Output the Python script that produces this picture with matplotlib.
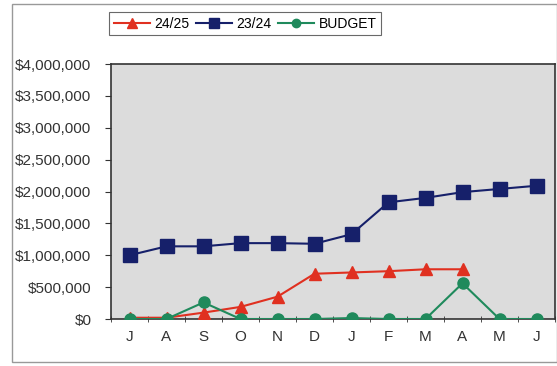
import matplotlib.pyplot as plt
from matplotlib.patches import Rectangle
from matplotlib.ticker import FuncFormatter, MultipleLocator

plt.rcParams['font.family'] = ['Liberation Sans', 'DejaVu Sans']

months = ['J', 'A', 'S', 'O', 'N', 'D', 'J', 'F', 'M', 'A', 'M', 'J']
fy2425 = [20000, 20000, 100000, 190000, 350000, 710000, 730000, 750000, 780000, 780000]
fy2324 = [1000000, 1140000, 1140000, 1190000, 1190000, 1180000, 1330000, 1830000,
          1900000, 1990000, 2040000, 2090000]
budget = [0, 0, 260000, 0, 0, 0, 15000, 0, 0, 560000, 0, 0]

fig = plt.figure(figsize=(5.57, 3.66), dpi=100)
fig.patches.append(Rectangle((12 / 557, 4 / 366), 545 / 557, 358 / 366,
                             transform=fig.transFigure, fill=False,
                             edgecolor='#999999', linewidth=1))
ax = fig.add_axes([111 / 557, 1 - 319 / 366, 444 / 557, 255 / 366])
ax.set_facecolor('#dcdcdc')

x = list(range(len(months)))
ax.plot(x[:len(fy2425)], fy2425, color='#e03020', marker='^', markersize=9,
        linewidth=1.5, label='24/25', zorder=4)
ax.plot(x, fy2324, color='#16206a', marker='s', markersize=9.5,
        linewidth=1.5, label='23/24', zorder=3)
ax.plot(x, budget, color='#1f8a5c', marker='o', markersize=8,
        linewidth=1.5, label='BUDGET', zorder=5)

ax.set_xlim(-0.5, 11.5)
ax.set_ylim(0, 4000000)
ax.set_xticks(x)
ax.set_xticklabels(months)
ax.xaxis.set_minor_locator(MultipleLocator(1, offset=0.5))
ax.tick_params(axis='x', which='major', length=0, pad=8, labelsize=11, colors='#333333')
ax.tick_params(axis='x', which='minor', length=5, direction='inout', color='#333333')
ax.yaxis.set_major_locator(MultipleLocator(500000))
ax.yaxis.set_major_formatter(FuncFormatter(lambda v, p: '${:,.0f}'.format(v)))
ax.tick_params(axis='y', length=4, direction='out', labelsize=11, pad=10,
               colors='#333333')
for s in ax.spines.values():
    s.set_color('#333333')
    s.set_linewidth(1.2)

leg = fig.legend(loc='center', bbox_to_anchor=(245 / 557, 1 - 23.5 / 366), ncol=3,
                 frameon=True, fancybox=False, edgecolor='#444444', fontsize=10,
                 handlelength=2.6, handletextpad=0.3, columnspacing=0.5,
                 borderpad=0.35, markerscale=0.75)
leg.get_frame().set_linewidth(0.8)

fig.savefig('out.png', dpi=100)
